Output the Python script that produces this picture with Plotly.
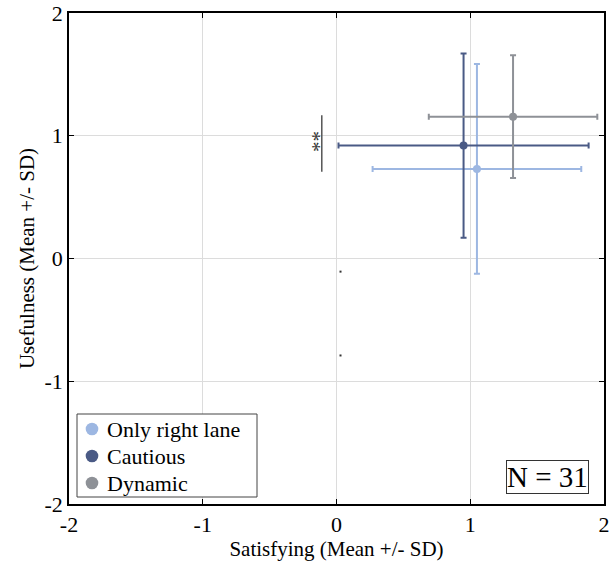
import plotly.graph_objects as go

groups = ["Only right lane", "Cautious", "Dynamic"]
sat_mean = [1.05, 0.95, 1.32]
sat_sd = [0.78, 0.935, 0.63]
use_mean = [0.73, 0.92, 1.155]
use_sd = [0.855, 0.75, 0.50]
colors = ["#9db7e2", "#4a5a85", "#8e9197"]

sig_x = [-0.11, -0.11]
sig_y = [0.707, 1.168]
stray_x = [0.03, 0.03]
stray_y = [-0.107, -0.79]

SERIF = "Times New Roman, Liberation Serif, serif"
W, H = 611, 573
ML, MR, MT, MB = 69, 7, 13, 69
PW, PH = W - ML - MR, H - MT - MB


def px_x(px):
    return (px - ML) / PW


def px_y(py):
    return (H - MB - py) / PH


fig = go.Figure()
for g, xm, xs, ym, ys, c in zip(groups, sat_mean, sat_sd, use_mean, use_sd, colors):
    fig.add_trace(go.Scatter(
        x=[xm], y=[ym], mode="markers", name=g, showlegend=False,
        marker=dict(color=c, size=8),
        error_x=dict(type="data", array=[xs], color=c, thickness=2, width=3),
        error_y=dict(type="data", array=[ys], color=c, thickness=2, width=3),
    ))
fig.add_trace(go.Scatter(x=sig_x, y=sig_y, mode="lines", line=dict(color="#555555", width=1.5),
                         showlegend=False, hoverinfo="skip"))
fig.add_trace(go.Scatter(x=stray_x, y=stray_y, mode="markers", marker=dict(color="#333333", size=2, symbol="square"),
                         showlegend=False, hoverinfo="skip"))

fig.add_annotation(x=sig_x[0], y=0.95, xref="x", yref="y", text="**", textangle=90, showarrow=False,
                   xshift=-9, font=dict(size=21, color="#333333", family=SERIF))
fig.add_annotation(x=0.972, y=0.02, xref="paper", yref="paper", xanchor="right", yanchor="bottom",
                   text="N = 31", showarrow=False, font=dict(size=29, color="black", family=SERIF),
                   bordercolor="#333333", borderwidth=1, borderpad=0, bgcolor="white")

# legend (drawn box with entries from groups/colors)
fig.add_shape(type="rect", xref="paper", yref="paper",
              x0=px_x(77), x1=px_x(257), y0=px_y(497), y1=px_y(414),
              line=dict(color="#444444", width=1), fillcolor="white", layer="above")
for i, (g, c) in enumerate(zip(groups, colors)):
    cy = px_y(429 + 27 * i)
    fig.add_shape(type="circle", xref="paper", yref="paper",
                  xsizemode="pixel", ysizemode="pixel",
                  xanchor=px_x(92), yanchor=cy, x0=-6.3, x1=6.3, y0=-6.3, y1=6.3,
                  line=dict(width=0), fillcolor=c, layer="above")
    fig.add_annotation(x=px_x(105), y=cy, xref="paper", yref="paper", xanchor="left", yanchor="middle",
                       text=g, showarrow=False, font=dict(size=22, color="black", family=SERIF))

axis_common = dict(range=[-2, 2], tickvals=[-2, -1, 0, 1, 2], ticktext=["-2", "-1", "0", "1", "2"],
                   showgrid=True, gridcolor="#dcdcdc", gridwidth=1, zeroline=False,
                   showline=True, linecolor="black", linewidth=1.5, mirror="ticks",
                   ticks="inside", ticklen=5, tickcolor="black", automargin=False,
                   tickfont=dict(size=22, color="black", family=SERIF))

fig.update_layout(
    width=W, height=H,
    margin=dict(l=ML, r=MR, t=MT, b=MB),
    paper_bgcolor="white", plot_bgcolor="white",
    font=dict(family=SERIF, color="black"),
    xaxis=dict(**axis_common, title=dict(text="Satisfying (Mean +/- SD)",
                                         font=dict(size=21, family=SERIF), standoff=4)),
    yaxis=dict(**axis_common, title=dict(text="Usefulness (Mean +/- SD)",
                                         font=dict(size=21, family=SERIF), standoff=4)),
    showlegend=False,
)

fig.write_html("out.html", config={"displayModeBar": False},
               post_script="document.body.style.margin='0';")
